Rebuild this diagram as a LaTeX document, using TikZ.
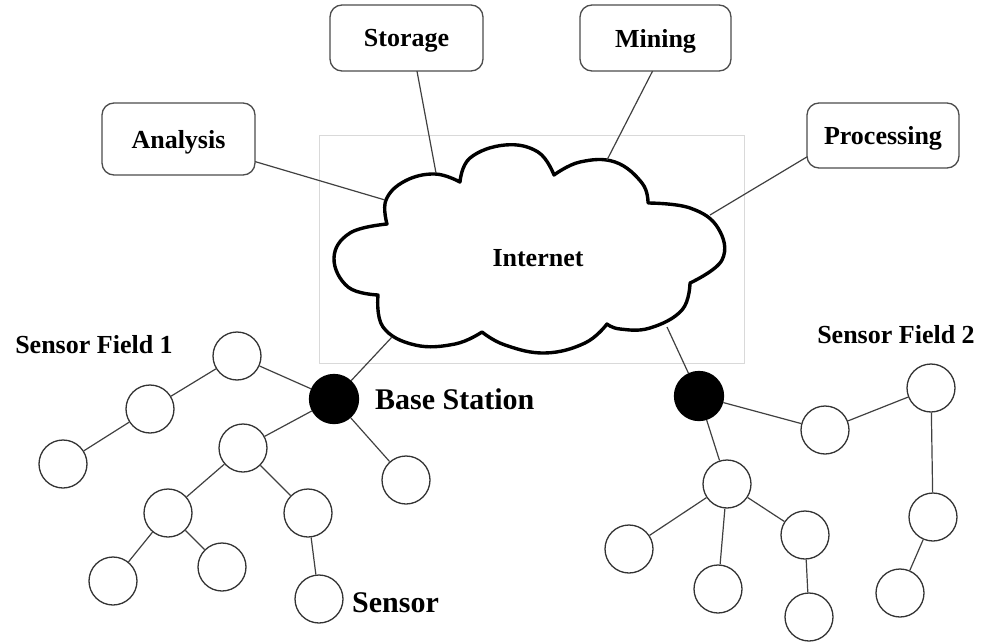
\documentclass[tikz,border=0pt]{standalone}
\usepackage{fontspec}
\setmainfont{Liberation Serif}
\begin{document}
\begin{tikzpicture}[x=1pt,y=-1pt,
  txt/.style={font=\fontsize{26}{30}\selectfont\bfseries, inner sep=0pt},
  bigtxt/.style={font=\fontsize{30}{34}\selectfont\bfseries, inner sep=0pt},
  box/.style={draw=black!70, line width=1.3pt, rounded corners=12pt, fill=white},
  sensor/.style={circle, draw=black!80, line width=1.3pt, minimum size=48pt, inner sep=0pt, fill=white},
  basest/.style={circle, draw=black, fill=black, line width=1.3pt, minimum size=49pt, inner sep=0pt},
  link/.style={draw=black!75, line width=1.2pt},
  cloudline/.style={draw=black, line width=3.4pt, line join=round, line cap=round}
]
\useasboundingbox (0,0) rectangle (988,642);

% light frame behind the cloud
\draw[black!15, line width=0.8pt] (319,135) rectangle (744,363);

% boxes
\draw[box] (102,103) rectangle (255,175);
\node[txt] (analysis) at (178.5,142) {Analysis};
\draw[box] (330,5) rectangle (483,71);
\node[txt] (storage) at (406.5,41) {Storage};
\draw[box] (580,5) rectangle (731,71);
\node[txt] (mining) at (655.5,41) {Mining};
\draw[box] (807,103) rectangle (959,168);
\node[txt] (processing) at (883,138) {Processing};

% hidden border nodes of the boxes for the connectors
\node[minimum width=153pt, minimum height=72pt, inner sep=0pt] (analysisbox) at (178.5,139) {};
\node[minimum width=153pt, minimum height=66pt, inner sep=0pt] (storagebox) at (406.5,38) {};
\node[minimum width=151pt, minimum height=66pt, inner sep=0pt] (miningbox) at (655.5,38) {};
\node[minimum width=152pt, minimum height=65pt, inner sep=0pt] (processingbox) at (883,135.5) {};

% cloud
\draw[cloudline, fill=white]
  plot[smooth, tension=0.7] coordinates {(387,224) (386,200) (405,181) (435,174) (460,182)}
  -- plot[smooth, tension=0.7] coordinates {(460,182) (470,158) (505,145) (538,152) (554,175)}
  -- plot[smooth, tension=0.7] coordinates {(554,175) (580,162) (615,162) (642,183) (648,203)}
  -- plot[smooth, tension=0.7] coordinates {(648,203) (690,208) (718,228) (722,260) (690,283)}
  -- plot[smooth, tension=0.7] coordinates {(690,283) (682,310) (650,328) (620,329) (607,324)}
  -- plot[smooth, tension=0.7] coordinates {(607,324) (585,343) (545,353) (505,345) (482,332)}
  -- plot[smooth, tension=0.7] coordinates {(482,332) (455,344) (415,345) (383,327) (378,295)}
  -- plot[smooth, tension=0.7] coordinates {(378,295) (348,287) (334,258) (350,233) (387,224)}
  -- cycle;
\node[txt] (internet) at (538,258) {Internet};

% connector ends on the cloud
\coordinate (cA) at (385,200);
\coordinate (cS) at (436,173);
\coordinate (cM) at (607,160);
\coordinate (cP) at (710,215);
\coordinate (cB1) at (392,337);
\coordinate (cB2) at (667,327);

\draw[link] (analysisbox) -- (cA);
\draw[link] ([xshift=10.5pt]storagebox.south) -- (cS);
\draw[link] ([xshift=-3pt]miningbox.south) -- (cM);
\draw[link] ([yshift=-21.5pt]processingbox.west) -- (cP);

% sensor field 1
\node[basest] (bs1) at (334,399) {};
\node[sensor] (a) at (237,356) {};
\node[sensor] (b) at (150,409) {};
\node[sensor] (c) at (63,464) {};
\node[sensor] (d) at (243,448) {};
\node[sensor] (e) at (406,480) {};
\node[sensor] (f) at (168,513) {};
\node[sensor] (g) at (308,513) {};
\node[sensor] (h) at (113,581) {};
\node[sensor] (i) at (222,567) {};
\node[sensor] (j) at (319,599) {};

\draw[link] (a) -- (b);
\draw[link] (b) -- (c);
\draw[link] (a) -- (bs1);
\draw[link] (bs1) -- (d);
\draw[link] (bs1) -- (e);
\draw[link] (d) -- (f);
\draw[link] (d) -- (g);
\draw[link] (f) -- (h);
\draw[link] (f) -- (i);
\draw[link] (g) -- (j);
\draw[link] (cB1) -- (bs1);

% sensor field 2
\node[basest] (bs2) at (699,396) {};
\node[sensor] (k) at (825,430) {};
\node[sensor] (l) at (931,388) {};
\node[sensor] (m) at (727,484) {};
\node[sensor] (n) at (629,549) {};
\node[sensor] (o) at (718,589) {};
\node[sensor] (p) at (805,535) {};
\node[sensor] (q) at (809,617) {};
\node[sensor] (r) at (933,517) {};
\node[sensor] (s) at (900,593) {};

\draw[link] (bs2) -- (k);
\draw[link] (k) -- (l);
\draw[link] (l) -- (r);
\draw[link] (r) -- (s);
\draw[link] (bs2) -- (m);
\draw[link] (m) -- (n);
\draw[link] (m) -- (o);
\draw[link] (m) -- (p);
\draw[link] (p) -- (q);
\draw[link] (cB2) -- (bs2);

% labels
\node[txt] (sf1) at (94,345) {Sensor Field 1};
\node[txt] (sf2) at (896,335) {Sensor Field 2};
\node[bigtxt, anchor=west] (bslabel) at (375,399) {Base Station};
\node[bigtxt, anchor=west] (sensorlabel) at (352,603) {Sensor};
\end{tikzpicture}
\end{document}
